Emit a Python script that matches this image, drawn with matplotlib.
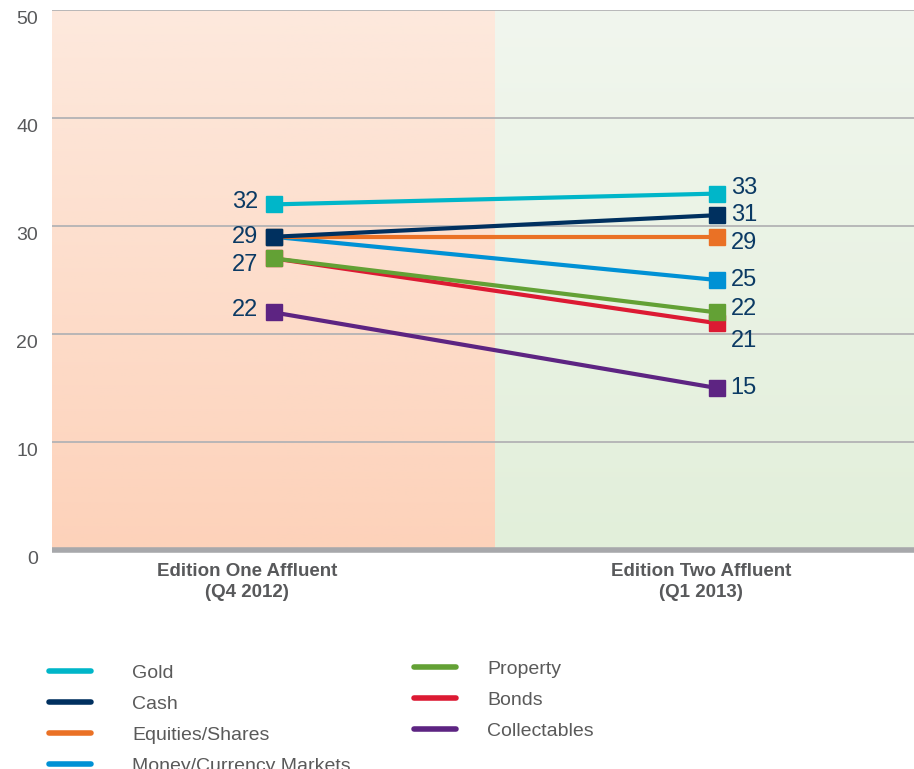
import numpy as np
import matplotlib
matplotlib.use("Agg")
import matplotlib.pyplot as plt
from matplotlib.lines import Line2D
from matplotlib.colors import LinearSegmentedColormap
from matplotlib.transforms import ScaledTranslation

# ---- data -------------------------------------------------------------
editions = ["Edition One Affluent\n(Q4 2012)", "Edition Two Affluent\n(Q1 2013)"]
series_names = ["Gold", "Cash", "Equities/Shares", "Money/Currency Markets",
                "Property", "Bonds", "Collectables"]
gold = [32, 33]
cash = [29, 31]
equities = [29, 29]
money = [29, 25]
property_ = [27, 22]
bonds = [27, 21]
collectables = [22, 15]
y_ticks = [0, 10, 20, 30, 40, 50]

series_values = [gold, cash, equities, money, property_, bonds, collectables]
colors = ["#00b6c9", "#00305f", "#ea7125", "#0091d5", "#63a135", "#dc1a33", "#5d2482"]
# drawing order (later = on top)
draw_order = [6, 5, 4, 3, 2, 1, 0]
# per-label vertical nudges in pixels (left point, right point)
label_nudge = {0: (2, 6), 1: (0, 0), 2: (None, -6), 3: (None, 0),
               4: (-7, 3), 5: (None, -18), 6: (2, 0)}

W, H = 914, 769
fig = plt.figure(figsize=(W / 100, H / 100), dpi=100)
fig.patch.set_facecolor("white")
ax = fig.add_axes([52 / W, 219 / H, 1 - 52 / W, 540 / H])
ax.set_facecolor("white")

# gradient background panels
grad = np.linspace(0, 1, 256).reshape(-1, 1)
left_cmap = LinearSegmentedColormap.from_list("l", ["#fdd2ba", "#fde9dd"])
right_cmap = LinearSegmentedColormap.from_list("r", ["#e2efda", "#f1f6ee"])
ax.imshow(grad, cmap=left_cmap, origin="lower", aspect="auto",
          extent=(-0.5, 0.5, 0, 50), zorder=0, interpolation="bilinear")
ax.imshow(grad, cmap=right_cmap, origin="lower", aspect="auto",
          extent=(0.5, 1.445, 0, 50), zorder=0, interpolation="bilinear")
ax.set_xlim(-0.5, 1.445)
ax.set_ylim(0, 50)

# grid lines
for yv in y_ticks[1:]:
    ax.axhline(yv, color="#b3b3b5", lw=1.3, zorder=1)
ax.axhline(0, color="#a7a8ab", lw=4.0, zorder=2, solid_capstyle="butt",
           clip_on=False)

for s in ax.spines.values():
    s.set_visible(False)

x = np.arange(len(editions))
for i in draw_order:
    ax.plot(x, series_values[i], color=colors[i], lw=3.0, marker="s",
            markersize=11, zorder=3 + (len(draw_order) - i) * 0.1,
            solid_capstyle="butt")

# value labels
px = fig.dpi_scale_trans
for i, vals in enumerate(series_values):
    nl, nr = label_nudge[i]
    if nl is not None:
        ax.annotate(f"{vals[0]}", (x[0], vals[0]), xytext=(-11, nl * 0.72),
                    textcoords="offset points", ha="right", va="center",
                    fontsize=17, color="#0b3a64", family="Liberation Sans", zorder=6)
    if nr is not None:
        ax.annotate(f"{vals[1]}", (x[1], vals[1]), xytext=(10, nr * 0.72),
                    textcoords="offset points", ha="left", va="center",
                    fontsize=17, color="#0b3a64", family="Liberation Sans", zorder=6)

# axes ticks
ax.set_yticks(y_ticks)
ax.set_yticklabels([str(v) for v in y_ticks], fontsize=14, color="#58595b",
                   family="Liberation Sans")
ax.tick_params(axis="y", length=0, pad=10)
for lab in ax.get_yticklabels():
    lab.set_transform(lab.get_transform() + ScaledTranslation(0, -0.08, px))

ax.set_xticks(x)
ax.set_xticklabels(editions, fontsize=13.5, color="#58595b", fontweight="bold",
                   family="Liberation Sans", linespacing=1.38)
ax.tick_params(axis="x", length=0, pad=9)
shifts = [-0.265, -0.16]
for lab, sh in zip(ax.get_xticklabels(), shifts):
    lab.set_transform(lab.get_transform() + ScaledTranslation(sh, 0, px))

# legend in two columns
handles = [Line2D([], [], color=c, lw=4.0, solid_capstyle="round") for c in colors]
leg_kw = dict(frameon=False, handlelength=2.14, borderpad=0, borderaxespad=0,
              labelspacing=0.70, prop={"family": "Liberation Sans", "size": 14})
leg1 = fig.legend(handles[:4], series_names[:4], loc="upper left",
                  bbox_to_anchor=(49 / W, 1 - 664 / H), handletextpad=2.15, **leg_kw)
leg2 = fig.legend(handles[4:], series_names[4:], loc="upper left",
                  bbox_to_anchor=(414 / W, 1 - 660 / H), handletextpad=1.64, **leg_kw)
for leg in (leg1, leg2):
    for t in leg.get_texts():
        t.set_color("#5a5a5a")

fig.savefig("out.png", dpi=100)
